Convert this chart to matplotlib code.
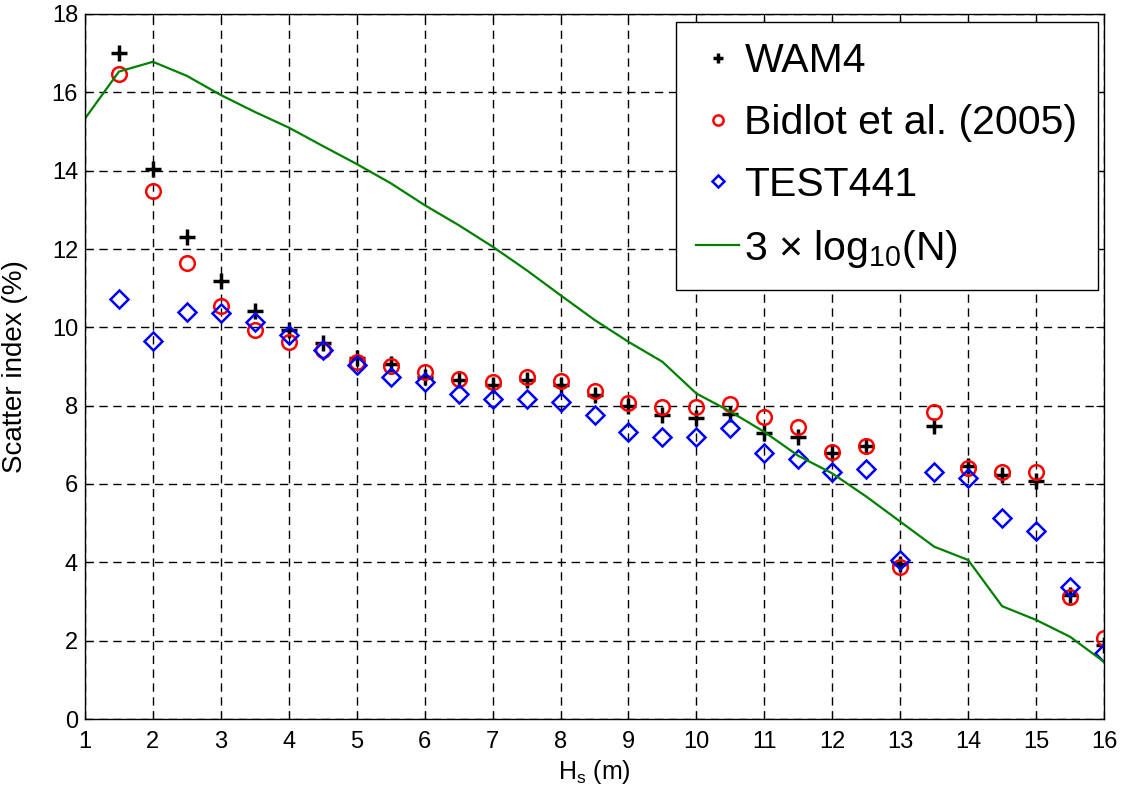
import matplotlib
matplotlib.use("Agg")
import matplotlib.pyplot as plt

plt.rcParams['font.family'] = ['Liberation Sans', 'DejaVu Sans']
plt.rcParams['mathtext.fontset'] = 'custom'
plt.rcParams['mathtext.rm'] = 'Liberation Sans'
plt.rcParams['mathtext.it'] = 'Liberation Sans:italic'

# Hs bins (m)
hs = [1.5, 2, 2.5, 3, 3.5, 4, 4.5, 5, 5.5, 6, 6.5, 7, 7.5, 8, 8.5,
      9, 9.5, 10, 10.5, 11, 11.5, 12, 12.5, 13, 13.5, 14, 14.5, 15, 15.5, 16]

# scatter index (%) per model
wam4 = [17.0, 14.03, 12.31, 11.18, 10.42, 9.93, 9.61, 9.21, 9.06, 8.74,
        8.65, 8.53, 8.65, 8.53, 8.27, 7.99, 7.76, 7.69, 7.80, 7.31,
        7.21, 6.78, 6.97, 3.96, 7.49, 6.47, 6.23, 6.08, 3.17, 1.89]
bidlot = [16.47, 13.48, 11.63, 10.55, 9.93, 9.63, 9.42, 9.12, 9.02, 8.87,
          8.69, 8.61, 8.74, 8.64, 8.37, 8.06, 7.97, 7.97, 8.03, 7.72,
          7.46, 6.82, 6.97, 3.89, 7.85, 6.42, 6.30, 6.30, 3.12, 2.08]
test441 = [10.72, 9.66, 10.40, 10.37, 10.14, 9.80, 9.42, 9.04, 8.73, 8.61,
           8.31, 8.17, 8.18, 8.10, 7.76, 7.33, 7.19, 7.21, 7.44, 6.80,
           6.65, 6.31, 6.38, 4.06, 6.31, 6.16, 5.12, 4.81, 3.36, 1.68]

# 3*log10(N) curve
hs_n = [1, 1.5, 2, 2.5, 3, 3.5, 4, 4.5, 5, 5.5, 6, 6.5, 7, 7.5, 8, 8.5,
        9, 9.5, 10, 10.5, 11, 11.5, 12, 12.5, 13, 13.5, 14, 14.5, 15, 15.5, 16]
log_n = [15.33, 16.53, 16.78, 16.42, 15.93, 15.50, 15.10, 14.63, 14.17, 13.68,
         13.12, 12.61, 12.06, 11.46, 10.82, 10.19, 9.63, 9.12, 8.31, 7.85,
         7.33, 6.72, 6.27, 5.68, 5.04, 4.40, 4.06, 2.88, 2.53, 2.10, 1.46]

fig = plt.figure(figsize=(11.28, 7.92), dpi=100)
ax = fig.add_axes([85 / 1128, 73 / 792, 1019 / 1128, 705 / 792])

ax.plot(hs, wam4, '+', color='black', ms=11, mew=2.5, label='WAM4')
ax.plot(hs, bidlot, 'o', color='red', mfc='none', ms=10.5, mew=1.8,
        label='Bidlot et al. (2005)')
ax.plot(hs, test441, 'D', color='blue', mfc='none', ms=9, mew=1.8, label='TEST441')
ax.plot(hs_n, log_n, '-', color='#008000', lw=1.6,
        label=r'3 $\times$ log$_{\mathregular{10}}$(N)')

ax.set_xlim(1, 16)
ax.set_ylim(0, 18)
ax.set_xticks(range(1, 17))
ax.set_yticks(range(0, 19, 2))
ax.grid(True, color='black', linestyle=(0, (6, 4)), linewidth=1.0)
ax.tick_params(direction='in', top=True, right=True, length=6, labelsize=17)
ax.tick_params(axis='x', pad=9)
ax.tick_params(axis='y', pad=5)
for s in ax.spines.values():
    s.set_linewidth(1.0)

ax.set_xlabel(r'H$_\mathregular{s}$ (m)', fontsize=18, labelpad=3)
ax.set_ylabel('Scatter index (%)', fontsize=20)
ax.yaxis.set_label_coords(-0.056, 0.5)

leg = ax.legend(loc='upper right', bbox_to_anchor=(0.994, 0.989), borderaxespad=0,
                fontsize=29.5, fancybox=False, framealpha=1, edgecolor='black',
                handlelength=1.05, handletextpad=0.12, borderpad=0.5,
                labelspacing=0.58, markerscale=0.7)
leg.get_frame().set_linewidth(1.0)

plt.savefig('out.png', dpi=100)
